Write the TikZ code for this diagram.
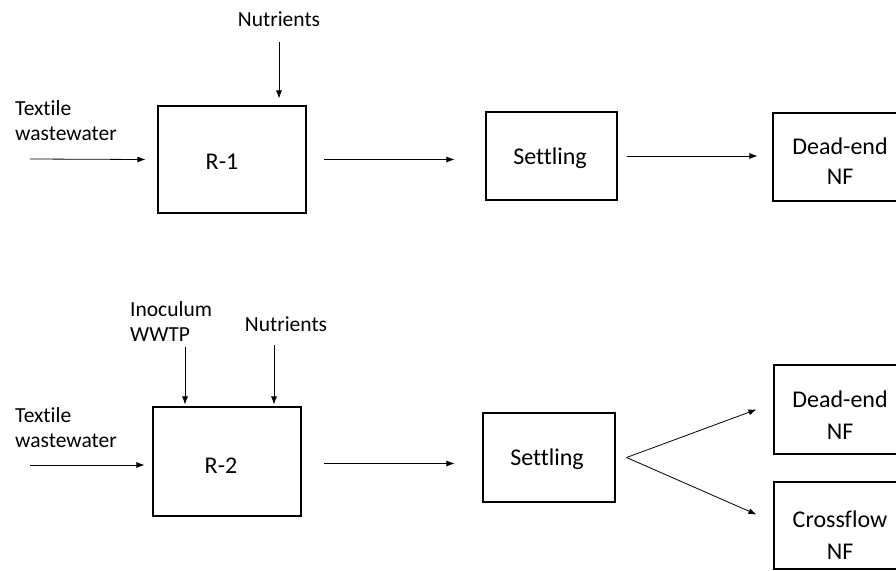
\documentclass[tikz,border=0pt]{standalone}
\usepackage{fontspec}
\setmainfont{Carlito}[Ligatures=CommonOff]
\usetikzlibrary{arrows.meta,calc}
\begin{document}
\begin{tikzpicture}[x=1pt,y=-1pt,
  box/.style={draw,line width=1.1pt,inner sep=0pt},
  boxtext/.style={inner sep=0pt,align=center,font=\fontsize{24}{30}\selectfont},
  boxtextb/.style={inner sep=0pt,align=center,font=\fontsize{24}{32}\selectfont},
  lbl/.style={inner sep=0pt,align=left,font=\fontsize{21.5}{25}\selectfont},
  arr/.style={line width=0.8pt,-{Latex[length=8pt,width=6pt]}}]
\useasboundingbox (0,0) rectangle (896,570);
% ---- top line ----
\node[box,minimum width=148pt,minimum height=107pt] (r1) at (232,159.5) {};
\node[boxtext] (r1t) at (222,162) {R-1};
\node[box,minimum width=131pt,minimum height=88pt] (s1) at (551.5,156) {};
\node[boxtext] (s1t) at (550,158) {Settling};
\node[box,minimum width=134pt,minimum height=88pt] (d1) at (840,157) {};
\node[boxtext] (d1t) at (840,161.5) {Dead-end\\NF};
\node[lbl,anchor=west] (tw1) at (15,121) {Textile\\wastewater};
\node[lbl] (n1) at (279,19) {Nutrients};
\coordinate (tw1a) at (30,159);
\coordinate (n1a) at (279,42);
\draw[arr] (tw1a) -- ($(r1.west)+(-12,0)$);
\draw[arr] (n1a) -- ($(r1.north west -| n1a)+(0,-7)$);
\draw[arr] ([xshift=17pt]r1.east) -- ($(r1.east -| s1.west)+(-31,0)$);
\draw[arr] ([xshift=9pt]s1.east) -- ($(s1.east -| d1.west)+(-15,0)$);
% ---- bottom line ----
\node[box,minimum width=148pt,minimum height=109pt] (r2) at (227,461.5) {};
\node[boxtext] (r2t) at (221,466) {R-2};
\node[box,minimum width=132pt,minimum height=89pt] (s2) at (549,457.5) {};
\node[boxtext] (s2t) at (547,459) {Settling};
\node[box,minimum width=133pt,minimum height=89pt] (d2) at (840.5,409.5) {};
\node[boxtextb] (d2t) at (840,415) {Dead-end\\NF};
\node[box,minimum width=133pt,minimum height=87pt] (c2) at (840.5,525.5) {};
\node[boxtextb] (c2t) at (840,535) {Crossflow\\NF};
\node[lbl,anchor=west] (tw2) at (15,428) {Textile\\wastewater};
\node[lbl,anchor=west] (in2) at (130,322) {Inoculum\\WWTP};
\node[lbl] (n2) at (286,324) {Nutrients};
\coordinate (tw2a) at (30,465);
\coordinate (in2a) at (185,347);
\coordinate (n2a) at (274,345);
\draw[arr] (tw2a) -- ($(r2.west |- tw2a)+(-8,0)$);
\draw[arr] (in2a) -- ($(r2.north west -| in2a)+(0,-2)$);
\draw[arr] (n2a) -- ($(r2.north west -| n2a)+(0,-2)$);
\draw[arr] ($(r2.east)+(22,2)$) -- ($(r2.east -| s2.west)+(-28,2)$);
\draw[arr] ([xshift=11pt]s2.east) -- ($(d2.west)+(-17,0)$);
\draw[arr] ([xshift=11pt]s2.east) -- ($(c2.west)+(-17,-11)$);
\end{tikzpicture}
\end{document}
